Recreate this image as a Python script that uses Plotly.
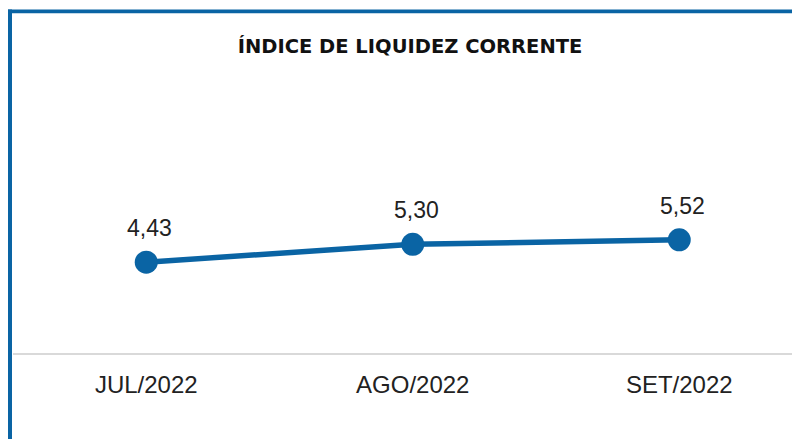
import plotly.graph_objects as go

categories = ["JUL/2022", "AGO/2022", "SET/2022"]
values = [4.43, 5.30, 5.52]
labels = ["4,43", "5,30", "5,52"]
title_text = "ÍNDICE DE LIQUIDEZ CORRENTE"

BLUE = "#0A64A4"
W, H = 808, 439
# page body has an 8px margin, so figure coords = screen coords - 8
L, R, T, B = 5, 0, 72, 94
pw, ph = W - L - R, H - T - B

xs = list(range(len(categories)))

fig = go.Figure()
fig.add_trace(go.Scatter(
    x=xs, y=values, mode="lines+markers",
    line=dict(color=BLUE, width=5.5),
    marker=dict(color=BLUE, size=23),
    hoverinfo="skip", cliponaxis=False,
))

for x, y, t in zip(xs, values, labels):
    fig.add_annotation(x=x, y=y, text=t, showarrow=False, yshift=34, xshift=3.5,
                       font=dict(family="Liberation Sans, Arial, sans-serif", size=23, color="#222222"))


def px_to_paper_x(px):
    return (px - L) / pw


def px_to_paper_y(py):
    return (H - B - py) / ph


fig.add_shape(type="line", xref="paper", yref="paper",
              x0=px_to_paper_x(0), x1=px_to_paper_x(W + 5),
              y0=px_to_paper_y(3.4), y1=px_to_paper_y(3.4),
              line=dict(color=BLUE, width=3.6))
fig.add_shape(type="line", xref="paper", yref="paper",
              x0=px_to_paper_x(2), x1=px_to_paper_x(2),
              y0=px_to_paper_y(1.6), y1=px_to_paper_y(445),
              line=dict(color=BLUE, width=4))

fig.update_layout(
    width=W, height=H,
    margin=dict(l=L, r=R, t=T, b=B),
    paper_bgcolor="white", plot_bgcolor="white",
    showlegend=False,
    title=dict(text=title_text, x=402 / W, xanchor="center", y=1 - 38 / H, yanchor="middle",
               font=dict(family="DejaVu Sans, sans-serif", size=19.5, color="#111111", weight="bold")),
    xaxis=dict(
        range=[-0.5, -0.5 + pw / 266.5],
        tickmode="array", tickvals=xs, ticktext=categories,
        showgrid=False, zeroline=False,
        showline=True, linecolor="#d9d9d9", linewidth=2,
        ticks="", ticklen=0, ticklabelstandoff=9,
        tickfont=dict(family="Liberation Sans, Arial, sans-serif", size=24, color="#222222"),
        fixedrange=True,
    ),
    yaxis=dict(
        range=[0, ph / 20.5],
        visible=False, showgrid=False, zeroline=False, fixedrange=True,
    ),
)

fig.write_html("out.html")
